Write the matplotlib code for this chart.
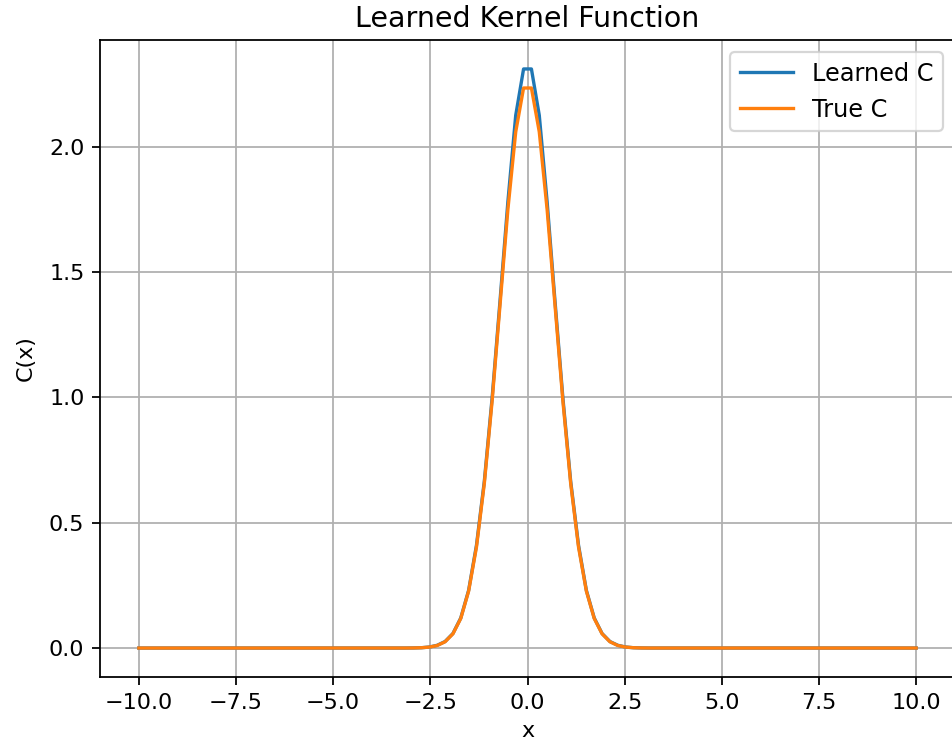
import matplotlib
matplotlib.use('Agg')
import matplotlib.pyplot as plt

# sample points (zero tails collapsed to the endpoints)
x_vals = [-10.0, -3.131, -2.929, -2.727, -2.525, -2.323, -2.121, -1.919, -1.717,
          -1.515, -1.313, -1.111, -0.909, -0.707, -0.505, -0.303, -0.101,
          0.101, 0.303, 0.505, 0.707, 0.909, 1.111, 1.313, 1.515,
          1.717, 1.919, 2.121, 2.323, 2.525, 2.727, 2.929, 3.131, 10.0]

learned_c = [0.0, 0.0001, 0.0004, 0.0013, 0.004, 0.011, 0.026, 0.058, 0.12,
             0.23, 0.41, 0.665, 1.0, 1.385, 1.78, 2.125, 2.31,
             2.31, 2.125, 1.78, 1.385, 1.0, 0.665, 0.41, 0.23,
             0.12, 0.058, 0.026, 0.011, 0.004, 0.0013, 0.0004, 0.0001, 0.0]

true_c = [0.0, 0.0001, 0.0004, 0.0013, 0.0038, 0.0102, 0.0251, 0.0568, 0.118,
          0.227, 0.403, 0.657, 0.988, 1.369, 1.749, 2.059, 2.234,
          2.234, 2.059, 1.749, 1.369, 0.988, 0.657, 0.403, 0.227,
          0.118, 0.0568, 0.0251, 0.0102, 0.0038, 0.0013, 0.0004, 0.0001, 0.0]

fig = plt.figure(figsize=(952/160, 751/160), dpi=160)
ax = fig.add_axes([100/952, 74/751, 855/952, 637/751])

ax.plot(x_vals, learned_c, label='Learned C')
ax.plot(x_vals, true_c, label='True C')

ax.set_title('Learned Kernel Function', fontsize=12.8)
ax.set_xlabel('x')
ax.set_ylabel('C(x)', labelpad=6)
ax.grid(True)
ax.legend(loc='upper right', fontsize=10.8, handlelength=2.2)

fig.savefig('out.png', dpi=160)
